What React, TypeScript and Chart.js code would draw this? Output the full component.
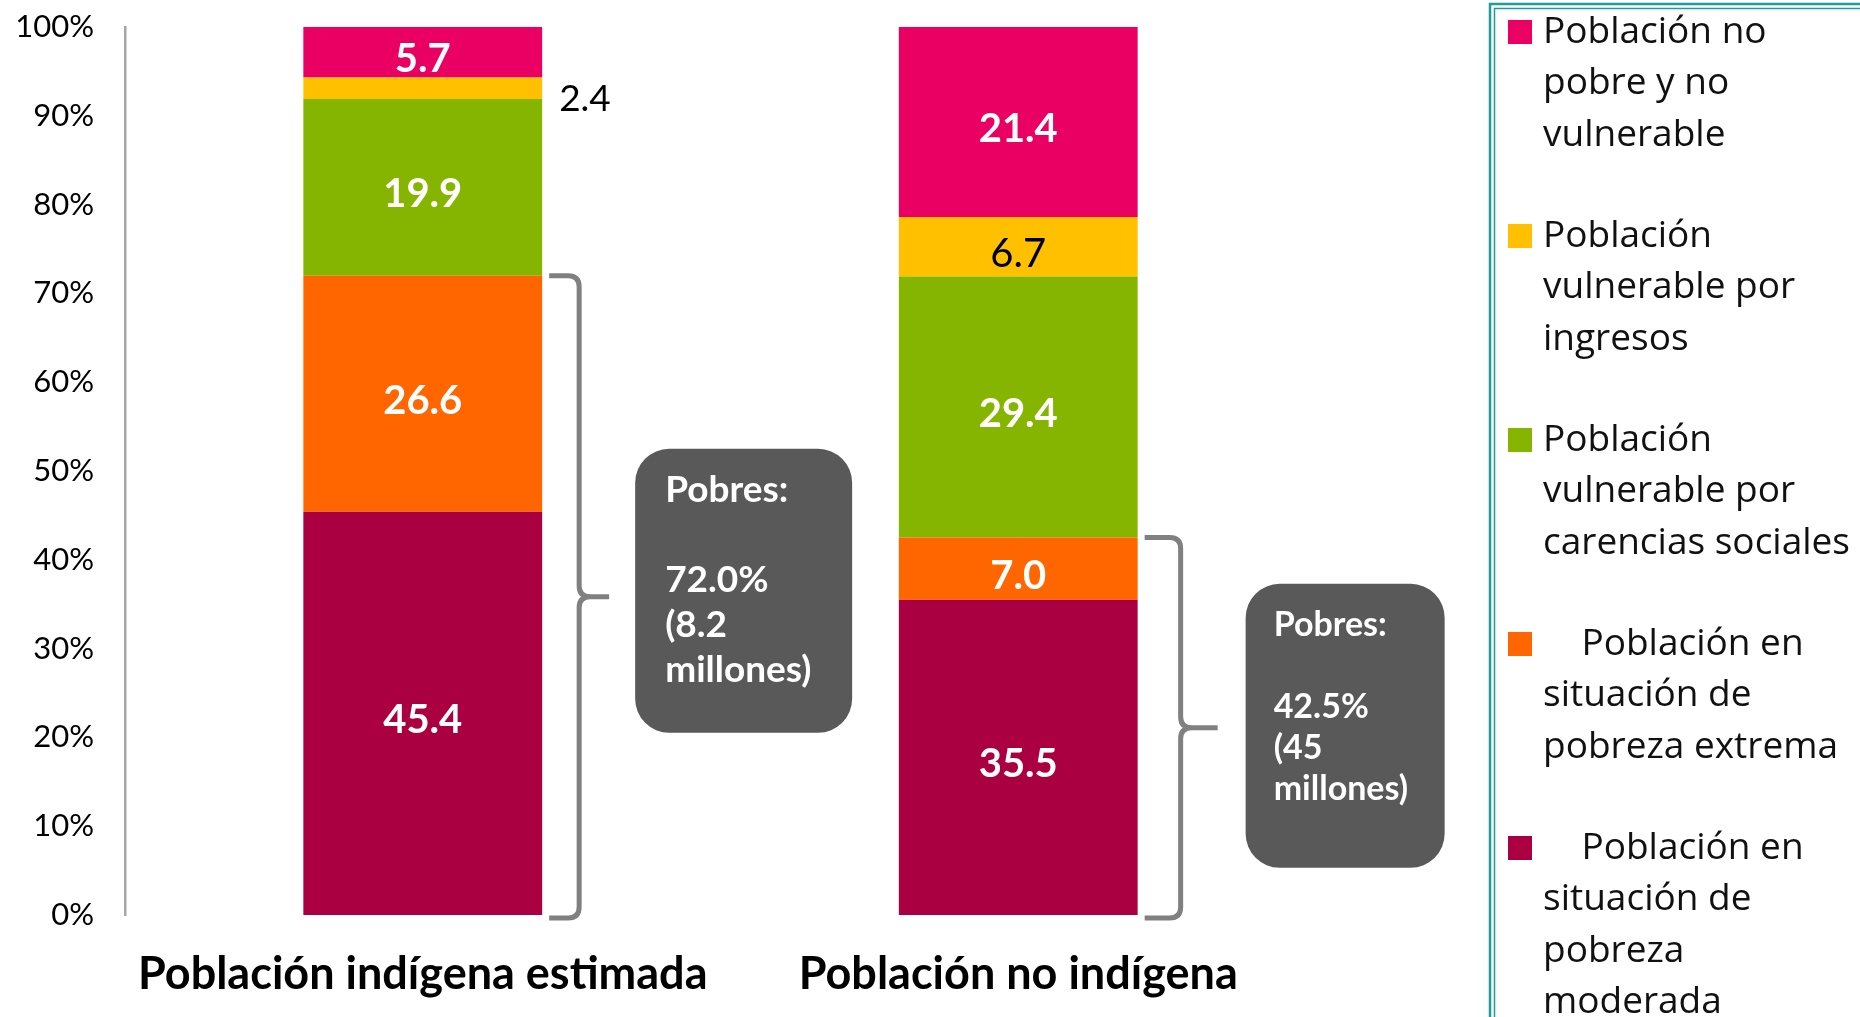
import React, { useEffect, useRef } from "react";
import { Chart, registerables } from "chart.js";

Chart.register(...registerables);

// ---------- data ----------
const categories = ["Población indígena estimada", "Población no indígena"];
const pobrezaModerada = [45.4, 35.5];
const pobrezaExtrema = [26.6, 7.0];
const vulnerableCarencias = [19.9, 29.4];
const vulnerableIngresos = [2.4, 6.7];
const noPobreNoVulnerable = [5.7, 21.4];

const seriesNames = [
  "Población en situación de pobreza moderada",
  "Población en situación de pobreza extrema",
  "Población vulnerable por carencias sociales",
  "Población vulnerable por ingresos",
  "Población no pobre y no vulnerable",
];
const seriesColors = ["#AA0042", "#FF6600", "#86B500", "#FFC000", "#EA0062"];
const labelColors = ["#FFFFFF", "#FFFFFF", "#FFFFFF", "#000000", "#FFFFFF"];

// legend text, top to bottom (reverse stacking order)
const legendLines = [
  ["Población no", "pobre y no", "vulnerable"],
  ["Población", "vulnerable por", "ingresos"],
  ["Población", "vulnerable por", "carencias sociales"],
  ["    Población en", "situación de", "pobreza extrema"],
  ["    Población en", "situación de", "pobreza", "moderada"],
];

const pobresMillones = ["8.2", "45"];

const FONT = "Lato, 'Open Sans', sans-serif";

function drawBrace(ctx: CanvasRenderingContext2D, xs: number, xv: number, xt: number, yTop: number, yBot: number) {
  const r = 11;
  const yTip = (yTop + yBot) / 2;
  ctx.save();
  ctx.strokeStyle = "#808080";
  ctx.lineWidth = 5;
  ctx.lineJoin = "round";
  ctx.beginPath();
  ctx.moveTo(xs, yTop);
  ctx.lineTo(xv - r, yTop);
  ctx.quadraticCurveTo(xv, yTop, xv, yTop + r);
  ctx.lineTo(xv, yTip - r);
  ctx.quadraticCurveTo(xv, yTip, xv + r, yTip);
  ctx.lineTo(xt, yTip);
  ctx.moveTo(xv + r, yTip);
  ctx.quadraticCurveTo(xv, yTip, xv, yTip + r);
  ctx.lineTo(xv, yBot - r);
  ctx.quadraticCurveTo(xv, yBot, xv - r, yBot);
  ctx.lineTo(xs, yBot);
  ctx.stroke();
  ctx.restore();
  return yTip;
}

const overlayPlugin = {
  id: "overlay",
  afterDatasetsDraw(chart: any) {
    const ctx: CanvasRenderingContext2D = chart.ctx;
    const yScale = chart.scales.y;

    // value labels
    chart.data.datasets.forEach((ds: any, di: number) => {
      const meta = chart.getDatasetMeta(di);
      meta.data.forEach((el: any, i: number) => {
        const v = ds.data[i] as number;
        const p = el.getProps(["x", "y", "base", "width"], true);
        const h = Math.abs(p.base - p.y);
        const cy = (p.y + p.base) / 2;
        const txt = v.toFixed(1);
        ctx.save();
        ctx.textBaseline = "middle";
        if (h < 30) {
          ctx.font = `37px ${FONT}`;
          ctx.fillStyle = "#000";
          ctx.textAlign = "left";
          ctx.fillText(txt, p.x + p.width / 2 + 17, cy + 11);
        } else {
          const dark = labelColors[di] === "#000000";
          ctx.font = `${dark ? "" : "bold "}40px ${FONT}`;
          ctx.fillStyle = labelColors[di];
          ctx.textAlign = "center";
          ctx.fillText(txt, p.x, cy + 7);
        }
        ctx.restore();
      });
    });

    // braces and "Pobres" boxes
    const barMeta = chart.getDatasetMeta(0);
    const boxCfg = [
      { xs: 7, xv: 37, xt: 67, bx: 93, bw: 217, font: 37, lh: 45, first: 41, tx: 30, dy: -6 },
      { xs: 7, xv: 43, xt: 80, bx: 108, bw: 199, font: 34, lh: 41, first: 41, tx: 28, dy: -2 },
    ];
    categories.forEach((_, i) => {
      const el = barMeta.data[i] as any;
      const p = el.getProps(["x", "width"], true);
      const right = p.x + p.width / 2;
      const pobres = pobrezaModerada[i] + pobrezaExtrema[i];
      const yTop = yScale.getPixelForValue(pobres);
      const yBot = yScale.getPixelForValue(0) + 3;
      const c = boxCfg[i];
      const yTip = drawBrace(ctx, right + c.xs, right + c.xv, right + c.xt, yTop, yBot);

      const bh = 284;
      const bx = right + c.bx;
      const by = yTip - bh / 2 + c.dy;
      ctx.save();
      ctx.fillStyle = "#595959";
      ctx.beginPath();
      (ctx as any).roundRect(bx, by, c.bw, bh, 34);
      ctx.fill();
      const lines = ["Pobres:", "", pobres.toFixed(1) + "%", "(" + pobresMillones[i], "millones)"];
      ctx.fillStyle = "#FFFFFF";
      ctx.font = `bold ${c.font}px ${FONT}`;
      ctx.textAlign = "left";
      ctx.textBaseline = "middle";
      lines.forEach((ln, k) => {
        if (ln) ctx.fillText(ln, bx + c.tx, by + c.first + k * c.lh);
      });
      ctx.restore();
    });
  },
  afterDraw(chart: any) {
    const ctx: CanvasRenderingContext2D = chart.ctx;
    // legend frame
    ctx.save();
    ctx.strokeStyle = "#1E9C9C";
    ctx.lineWidth = 2.5;
    ctx.strokeRect(1490, 4, 500, 1100);
    ctx.lineWidth = 1.5;
    ctx.strokeRect(1494.5, 8.5, 500, 1100);
    // legend items
    const n = chart.data.datasets.length;
    ctx.font = `37px 'Open Sans', sans-serif`;
    ctx.textBaseline = "middle";
    ctx.textAlign = "left";
    for (let k = 0; k < n; k++) {
      const di = n - 1 - k;
      const ds = chart.data.datasets[di];
      const y0 = 32 + k * 204;
      ctx.fillStyle = ds.backgroundColor as string;
      ctx.fillRect(1508, y0 - 12, 24, 24);
      ctx.fillStyle = "#111";
      legendLines[k].forEach((ln, j) => {
        ctx.fillText(ln, 1543, y0 + j * 51.5);
      });
    }
    ctx.restore();
  },
};

export default function App() {
  const ref = useRef<HTMLCanvasElement | null>(null);

  useEffect(() => {
    if (!ref.current) return;
    const seriesData = [pobrezaModerada, pobrezaExtrema, vulnerableCarencias, vulnerableIngresos, noPobreNoVulnerable];
    const chart = new Chart(ref.current, {
      type: "bar",
      data: {
        labels: categories,
        datasets: seriesData.map((d, i) => ({
          label: seriesNames[i],
          data: d,
          backgroundColor: seriesColors[i],
          borderWidth: 0,
          barPercentage: 0.401,
          categoryPercentage: 1,
        })),
      },
      options: {
        responsive: false,
        animation: false,
        layout: { padding: { top: 27, left: 0, right: 544, bottom: 0 } },
        plugins: {
          legend: { display: false },
          tooltip: { enabled: false },
        },
        scales: {
          x: {
            stacked: true,
            grid: { display: false },
            border: { display: false },
            ticks: {
              color: "#000",
              padding: 24,
              font: { family: FONT, size: 45, weight: "bold" },
              maxRotation: 0,
              autoSkip: false,
            },
            afterFit: (s: any) => {
              s.height = 102;
              s.paddingLeft = 0;
              s.paddingRight = 0;
            },
          },
          y: {
            stacked: true,
            min: 0,
            max: 100,
            grid: { display: false },
            border: { display: true, color: "#A6A6A6", width: 2.5 },
            ticks: {
              stepSize: 10,
              color: "#000",
              padding: 23,
              font: { family: FONT, size: 31 },
              callback: (v: any) => `${v}%`,
            },
            afterFit: (s: any) => {
              s.width = 125;
              s.paddingTop = 0;
              s.paddingBottom = 0;
            },
          },
        },
      },
      plugins: [overlayPlugin],
    });
    return () => chart.destroy();
  }, []);

  return (
    <div style={{ position: "absolute", left: 0, top: 0, width: 1860, height: 1017, background: "#fff" }}>
      <canvas ref={ref} width={1860} height={1017} style={{ display: "block", width: 1860, height: 1017 }} />
    </div>
  );
}
